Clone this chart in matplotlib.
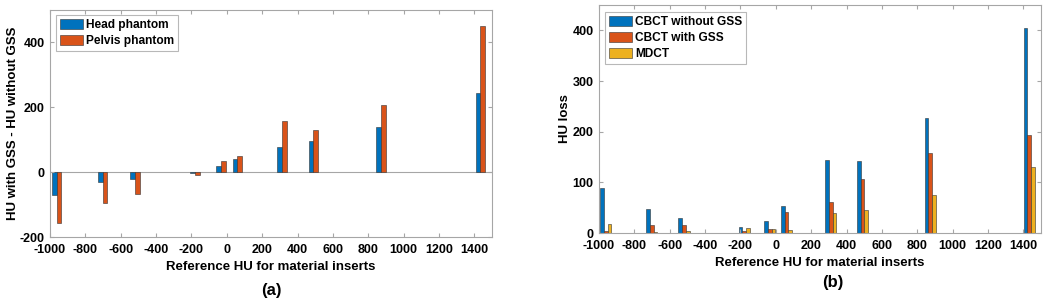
import numpy as np
import matplotlib
matplotlib.use('Agg')
import matplotlib.pyplot as plt

plt.rcParams['font.family'] = ['Liberation Sans', 'DejaVu Sans']
plt.rcParams['font.weight'] = 'bold'
plt.rcParams['axes.unicode_minus'] = False

# reference HU of the material inserts
ref_hu = [-962, -702, -519, -179, -34, 60, 311, 490, 873, 1434]

# panel (a): HU with GSS - HU without GSS
head_diff = [-71, -31, -21, -2, 18, 39, 77, 95, 138, 243]
pelvis_diff = [-158, -94, -66, -8, 34, 50, 159, 130, 206, 452]

# panel (b): HU loss
cbct_no_gss = [89, 47, 30, 12, 24, 53, 145, 142, 227, 404]
cbct_gss = [3, 16, 16, 4, 7, 42, 61, 107, 157, 194]
mdct = [18, 1, 3, 9, 8, 5, 40, 45, 75, 130]

xticks = np.arange(-1000, 1401, 200)

BLUE = '#0072BD'
ORANGE = '#D95319'
YELLOW = '#EDB120'
AXC = '#a6a6a6'


def style_axes(ax):
    for s in ax.spines.values():
        s.set_color(AXC)
        s.set_linewidth(0.8)
    ax.tick_params(direction='in', top=True, right=True, color=AXC,
                   length=3, labelsize=9)
    ax.tick_params(axis='x', pad=5)
    ax.tick_params(axis='y', pad=4)
    for lab in ax.get_xticklabels() + ax.get_yticklabels():
        lab.set_fontweight('bold')
    ax.set_xlim(-1000, 1500)
    ax.set_xticks(xticks)


def grouped_bars(ax, series, colors, labels, width):
    x = np.array(ref_hu, dtype=float)
    n = len(series)
    for i, (vals, c, lab) in enumerate(zip(series, colors, labels)):
        off = (i - (n - 1) / 2) * width
        ax.bar(x + off, vals, width=width, color=c, edgecolor='#333333',
               linewidth=0.4, label=lab)


def add_legend(ax, anchor):
    leg = ax.legend(loc='upper left', fontsize=8.6, frameon=True, fancybox=False,
                    handlelength=2.0, handleheight=1.0, borderpad=0.3,
                    labelspacing=0.3, handletextpad=0.25, borderaxespad=0,
                    bbox_to_anchor=anchor)
    leg.get_frame().set_edgecolor(AXC)
    leg.get_frame().set_linewidth(0.8)
    for t in leg.get_texts():
        t.set_fontweight('bold')
    return leg


fig = plt.figure(figsize=(10.5, 3.03), dpi=100)

# ---- panel (a)
ax1 = fig.add_axes([50 / 1050, 66 / 303, 442 / 1050, 227 / 303])
grouped_bars(ax1, [head_diff, pelvis_diff], [BLUE, ORANGE],
             ['Head phantom', 'Pelvis phantom'], 27)
ax1.axhline(0, color=AXC, linewidth=0.8, zorder=0)
ax1.set_ylim(-200, 500)
ax1.set_yticks([-200, 0, 200, 400])
style_axes(ax1)
ax1.set_xlabel('Reference HU for material inserts', fontsize=9.5,
               fontweight='bold', va='center')
ax1.xaxis.set_label_coords(0.5, -30 / 227)
ax1.set_ylabel('HU with GSS - HU without GSS', fontsize=9.5,
               fontweight='bold', va='center')
ax1.yaxis.set_label_coords(-37 / 442, 0.5)
add_legend(ax1, (6 / 442, 1 - 5 / 227))
fig.text(271 / 1050, 1 - 290 / 303, '(a)', ha='center', va='center',
         fontsize=12, fontweight='bold')

# ---- panel (b)
ax2 = fig.add_axes([599 / 1050, 70 / 303, 442 / 1050, 228 / 303])
grouped_bars(ax2, [cbct_no_gss, cbct_gss, mdct], [BLUE, ORANGE, YELLOW],
             ['CBCT without GSS', 'CBCT with GSS', 'MDCT'], 21)
ax2.set_ylim(0, 450)
ax2.set_yticks([0, 100, 200, 300, 400])
style_axes(ax2)
ax2.set_xlabel('Reference HU for material inserts', fontsize=9.5,
               fontweight='bold', va='center')
ax2.xaxis.set_label_coords(0.5, -30 / 228)
ax2.set_ylabel('HU loss', fontsize=9.5, fontweight='bold', va='center')
ax2.yaxis.set_label_coords(-34 / 442, 0.5)
add_legend(ax2, (6 / 442, 1 - 7 / 228))
fig.text(833 / 1050, 1 - 283 / 303, '(b)', ha='center', va='center',
         fontsize=12, fontweight='bold')

fig.savefig('out.png', dpi=100)
